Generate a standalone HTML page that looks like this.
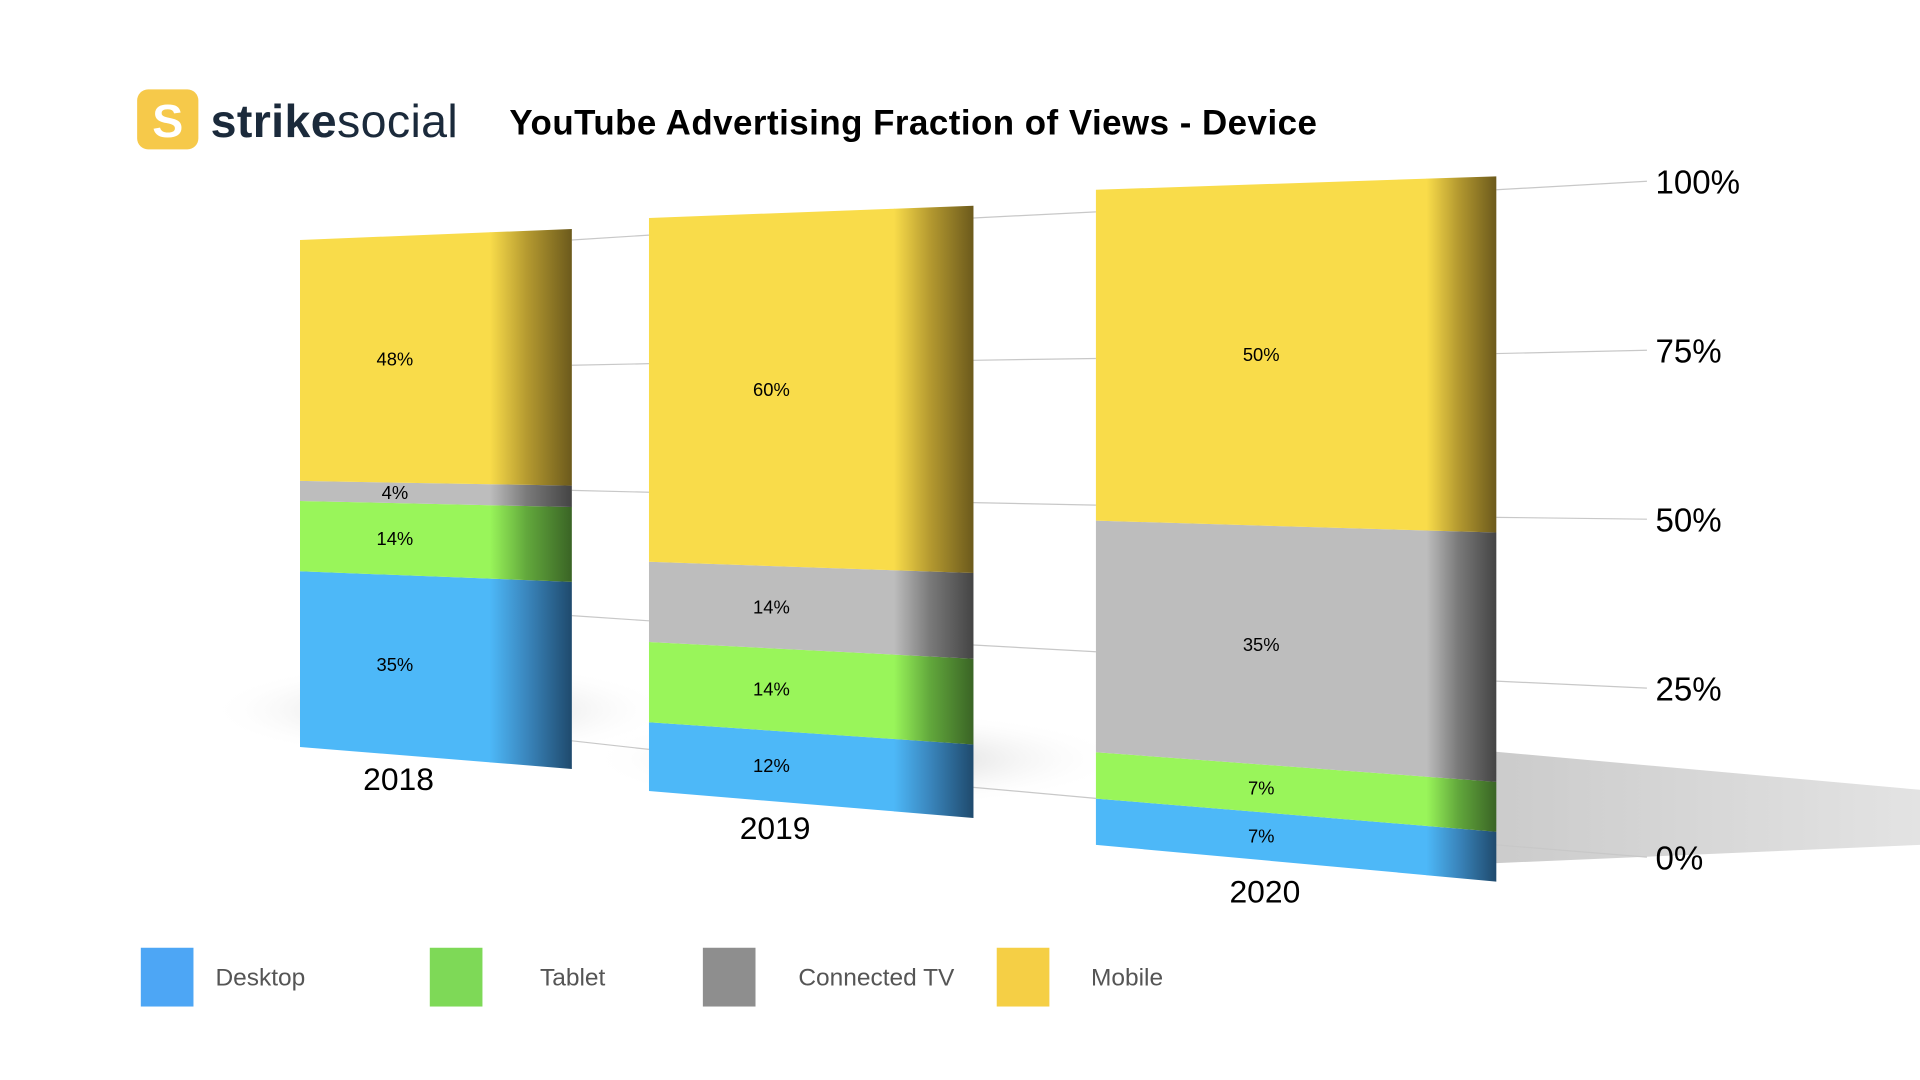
<!DOCTYPE html>
<html><head><meta charset="utf-8"><style>
html,body{margin:0;padding:0;background:#fff;}
svg{display:block;font-family:"Liberation Sans",sans-serif;}
</style></head><body>
<svg id="chart" width="1920" height="1080" viewBox="0 0 1568 882" xmlns="http://www.w3.org/2000/svg">
<defs>
<radialGradient id="shadow" cx="0.5" cy="0.5" r="0.5">
<stop offset="0" stop-color="#bbb" stop-opacity="0.9"/><stop offset="1" stop-color="#fff" stop-opacity="0"/>
</radialGradient>
<linearGradient id="shadow3" x1="0" y1="0" x2="1" y2="0">
<stop offset="0" stop-color="#c4c4c4"/><stop offset="1" stop-color="#e0e0e0"/>
</linearGradient>
<linearGradient id="side0" x1="0" x2="1"><stop offset="0" stop-color="#4db8f8"/><stop offset="0.45" stop-color="#3a86bd"/><stop offset="1" stop-color="#1f4a6d"/></linearGradient>
<linearGradient id="side1" x1="0" x2="1"><stop offset="0" stop-color="#99f55a"/><stop offset="0.45" stop-color="#62a83c"/><stop offset="1" stop-color="#3a6425"/></linearGradient>
<linearGradient id="side2" x1="0" x2="1"><stop offset="0" stop-color="#bdbdbd"/><stop offset="0.45" stop-color="#7a7a7a"/><stop offset="1" stop-color="#444"/></linearGradient>
<linearGradient id="side3" x1="0" x2="1"><stop offset="0" stop-color="#f9dc4a"/><stop offset="0.45" stop-color="#b59a30"/><stop offset="1" stop-color="#6c5a1c"/></linearGradient>
</defs>
<g>
<rect x="112" y="73" width="50" height="49" rx="9" fill="#f6c94a"/>
<text x="137" y="112" font-size="38" font-weight="bold" fill="#fff" text-anchor="middle">S</text>
<text x="172" y="112" font-size="38" fill="#1b2a3b" letter-spacing="0.3"><tspan font-weight="bold">strike</tspan><tspan>social</tspan></text>
</g>
<text x="416" y="110" font-size="28.5" font-weight="bold" fill="#000" letter-spacing="0.4">YouTube Advertising Fraction of Views - Device</text>
<g id="shadows"></g>
<g id="grid"></g>
<g id="bars"></g>
<g id="legend"></g>
</svg>
<script>
const years=["2018","2019","2020"];
const desktop=[35,12,7];
const tablet=[14,14,7];
const ctv=[4,14,35];
const mobile=[48,60,50];
const ticks=["0%","25%","50%","75%","100%"];
const tickValues=[0,25,50,75,100];
const seriesNames=["Desktop","Tablet","Connected TV","Mobile"];

const NS="http://www.w3.org/2000/svg";
const colors=["#4db8f8","#99f55a","#bdbdbd","#f9dc4a"];
const legendColors=["#4da6f5","#7ed957","#8e8e8e","#f5cf45"];
const geom=[
 {xl:245,xs:400,xr:467,t0:196,t1:187,b0:610,b1:628},
 {xl:530,xs:730,xr:795,t0:178,t1:168,b0:646,b1:668},
 {xl:895,xs:1165,xr:1222,t0:155,t1:144,b0:690,b1:720}
];
function el(t,a,p){const e=document.createElementNS(NS,t);for(const k in a)e.setAttribute(k,a[k]);p.appendChild(e);return e;}
function lerp(a,b,t){return a+(b-a)*t;}
function yAt(g,f,side){return side===0?lerp(g.b0,g.t0,f):lerp(g.b1,g.t1,f);}

const sh=document.getElementById('shadows');
const s1=el('ellipse',{cx:360,cy:580,rx:190,ry:40,fill:"url(#shadow)"},sh);

const s2=el('ellipse',{cx:700,cy:620,rx:220,ry:40,fill:"url(#shadow)"},sh);

const s3=el('polygon',{points:"1200,612 1568,645 1568,690 1220,705",fill:"url(#shadow3)",opacity:"0.9"},sh);


const gx=[467,530,795,895,1222,1345];
const g0=[605,612,643,652,690,700];
const g100=[196,192,178,173,155,148];
const grid=document.getElementById('grid');
tickValues.forEach((v,i)=>{
  const f=v/100;
  const segs=[[0,1],[2,3],[4,5]];
  segs.forEach(([a,b])=>{
    const ln=el('line',{x1:gx[a],y1:lerp(g0[a],g100[a],f),x2:gx[b],y2:lerp(g0[b],g100[b],f),stroke:"#c8c8c8","stroke-width":1},grid);
    
    
  });
  const y=lerp(g0[5],g100[5],f);
  const t=el('text',{x:gx[5]+7,y:y+10,"font-size":27,fill:"#000"},grid);
  t.textContent=ticks[i];
  
  
});

const bars=document.getElementById('bars');
years.forEach((yr,i)=>{
  const g=geom[i];
  const vals=[desktop[i],tablet[i],ctv[i],mobile[i]];
  const tot=vals.reduce((a,b)=>a+b,0);
  let acc=0;
  vals.forEach((v,s)=>{
    const f0=acc/tot,f1=(acc+v)/tot;acc+=v;
    const ysl0=yAt(g,f0,0),ysl1=yAt(g,f1,0);
    const fr=(g.xs-g.xl)/(g.xr-g.xl);
    const ym0=lerp(ysl0,yAt(g,f0,1),fr),ym1=lerp(ysl1,yAt(g,f1,1),fr);
    const yr0=yAt(g,f0,1),yr1=yAt(g,f1,1);
    const front=el('polygon',{points:`${g.xl},${ysl0} ${g.xs+0.5},${ym0} ${g.xs+0.5},${ym1} ${g.xl},${ysl1}`,fill:colors[s]},bars);
    
    
    const side=el('polygon',{points:`${g.xs},${ym0} ${g.xr},${yr0} ${g.xr},${yr1} ${g.xs},${ym1}`,fill:"url(#side"+s+")"},bars);
    
    
    const cx=(g.xl+g.xs)/2;
    const cy=(ysl0+ysl1+ym0+ym1)/4;
    const t=el('text',{x:cx,y:cy+5,"font-size":15,"text-anchor":"middle",fill:"#000"},bars);
    t.textContent=v+"%";
    
    
  });
  const lb=el('text',{x:(g.xl+g.xs)/2+3,y:Math.max(g.b0,g.b1)+17,"font-size":26,"text-anchor":"middle",fill:"#000"},bars);
  lb.textContent=yr;
  
  
});

const leg=document.getElementById('legend');
const lx=[115,351,574,814],tx=[176,441,652,891];
seriesNames.forEach((n,i)=>{
  const r=el('rect',{x:lx[i],y:774,width:43,height:48,fill:legendColors[i]},leg);
  
  
  const t=el('text',{x:tx[i],y:805,"font-size":20,fill:"#555"},leg);
  t.textContent=n;
  
  
});
</script>
</body></html>
